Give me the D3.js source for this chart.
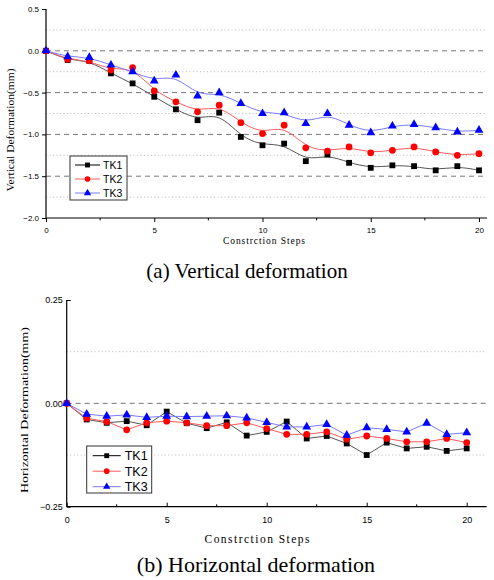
<!DOCTYPE html>
<html>
<head>
<meta charset="utf-8">
<script src="https://cdn.jsdelivr.net/npm/d3@7"></script>
<style>
  html, body { margin: 0; padding: 0; background: #fff; }
  svg { display: block; }
</style>
</head>
<body>
<div id="root"></div>
<script>
// construction steps (x categories)
const steps = [0, 1, 2, 3, 4, 5, 6, 7, 8, 9, 10, 11, 12, 13, 14, 15, 16, 17, 18, 19, 20]
const series = ['TK1', 'TK2', 'TK3']

// (a) vertical deformation, mm
const vTK1 = [0, -0.11, -0.12, -0.27, -0.39, -0.55, -0.70, -0.83, -0.74, -1.03, -1.13, -1.11, -1.32, -1.24, -1.34, -1.40, -1.37, -1.38, -1.43, -1.38, -1.43]
const vTK2 = [0, -0.10, -0.12, -0.23, -0.20, -0.48, -0.61, -0.73, -0.65, -0.86, -0.99, -0.89, -1.16, -1.20, -1.15, -1.22, -1.19, -1.15, -1.21, -1.25, -1.23]
const vTK3 = [0, -0.07, -0.08, -0.17, -0.25, -0.36, -0.29, -0.54, -0.50, -0.63, -0.75, -0.74, -0.87, -0.75, -0.89, -0.98, -0.90, -0.88, -0.92, -0.97, -0.95]

// (b) horizontal deformation, mm
const hTK1 = [0, -0.039, -0.047, -0.043, -0.053, -0.020, -0.048, -0.060, -0.046, -0.078, -0.069, -0.044, -0.085, -0.079, -0.097, -0.125, -0.095, -0.109, -0.105, -0.115, -0.109]
const hTK2 = [0, -0.036, -0.044, -0.064, -0.047, -0.043, -0.047, -0.054, -0.054, -0.047, -0.061, -0.075, -0.075, -0.069, -0.087, -0.079, -0.085, -0.093, -0.093, -0.085, -0.095]
const hTK3 = [0, -0.026, -0.031, -0.028, -0.034, -0.031, -0.032, -0.031, -0.030, -0.035, -0.046, -0.057, -0.057, -0.051, -0.077, -0.059, -0.063, -0.069, -0.048, -0.075, -0.071]

// tick labels
const xTicks = [0, 5, 10, 15, 20]
const vTicks = [0.5, 0.0, -0.5, -1.0, -1.5, -2.0]
const hTicks = [0.25, 0.00, -0.25]

const markerColor = { TK1: '#000', TK2: '#f00', TK3: '#00f' }
const lineColor = { TK1: '#555', TK2: '#ff5a5a', TK3: '#7a7aff' }
const marker = { TK1: d3.symbolSquare, TK2: d3.symbolCircle, TK3: d3.symbolTriangle }
const markerSize = { TK1: 34, TK2: 36, TK3: 34 }

const svg = d3.select('#root').append('svg')
  .attr('width', 494)
  .attr('height', 580)

const sans = 'Liberation Sans, Arial, sans-serif'
const serif = 'Liberation Serif, Times New Roman, serif'

function panel(opts) {
  const g = svg.append('g')
  const x = d3.scaleLinear().domain([0, opts.xMax]).range([opts.left, opts.right])
  const y = d3.scaleLinear().domain(opts.yDomain).range([opts.bottom, opts.top])

  // grid
  g.selectAll('.minor').data(opts.minorGrid).join('line')
    .attr('x1', opts.left).attr('x2', opts.right)
    .attr('y1', d => y(d)).attr('y2', d => y(d))
    .attr('stroke', '#bbb').attr('stroke-width', 1).attr('stroke-dasharray', '1,2.5')
  g.selectAll('.major').data(opts.majorGrid).join('line')
    .attr('x1', opts.left).attr('x2', opts.right)
    .attr('y1', d => y(d)).attr('y2', d => y(d))
    .attr('stroke', '#777').attr('stroke-width', 1).attr('stroke-dasharray', '5,4')

  // axes
  const tl = opts.tickInward ? -4 : 4
  const xAxis = d3.axisBottom(x).tickValues(xTicks).tickSize(tl).tickPadding(opts.tickInward ? 10 : 5)
    .tickFormat(d3.format('d'))
  const gx = g.append('g').attr('transform', `translate(0,${opts.bottom})`).call(xAxis)
  gx.append('g').selectAll('line').data([2.5, 7.5, 12.5, 17.5]).join('line')
    .attr('x1', d => x(d)).attr('x2', d => x(d)).attr('y1', 0).attr('y2', tl * 0.6)
    .attr('stroke', '#000')

  const yAxis = (opts.tickInward ? d3.axisRight(y) : d3.axisLeft(y))
    .tickValues(opts.yTicks).tickSize(4).tickFormat(d3.format(opts.yFormat))
  const gy = g.append('g').attr('transform', `translate(${opts.left},0)`).call(yAxis)
  if (opts.tickInward) {
    gy.selectAll('.tick text').attr('x', -4).attr('text-anchor', 'end')
    gy.selectAll('.tick line').attr('x2', 4)
  }

  ;[gx, gy].forEach(a => {
    a.select('.domain').attr('stroke', '#000').attr('stroke-width', 1.2)
    a.selectAll('.tick line').attr('stroke', '#000')
    a.selectAll('.tick text').attr('font-family', sans).attr('font-size', opts.tickFont).attr('fill', '#000')
  })
  gx.select('.domain').attr('d', `M${opts.left},0H${opts.right}`)
  gy.select('.domain').attr('d', `M0,${opts.bottom}V${opts.top}`)

  // lines + markers
  const line = d3.line()
    .x((d, i) => x(steps[i]))
    .y(d => y(d))
    .curve(opts.curve)

  opts.data.forEach((vals, k) => {
    const name = series[k]
    g.append('path')
      .datum(vals)
      .attr('d', line)
      .attr('fill', 'none')
      .attr('stroke', lineColor[name])
      .attr('stroke-width', 1)
  })
  opts.data.forEach((vals, k) => {
    const name = series[k]
    g.selectAll('.m' + name).data(vals).join('path')
      .attr('transform', (d, i) => `translate(${x(steps[i])},${y(d)})`)
      .attr('d', d3.symbol(marker[name], markerSize[name]))
      .attr('fill', markerColor[name])
  })

  // legend
  const L = opts.legend
  g.append('rect')
    .attr('x', L.x).attr('y', L.y).attr('width', L.w).attr('height', L.h)
    .attr('fill', '#fff').attr('stroke', '#333').attr('stroke-width', 1)
  series.forEach((name, k) => {
    const yy = L.y + L.first + k * L.step
    g.append('line')
      .attr('x1', L.x + L.l0).attr('x2', L.x + L.l1).attr('y1', yy).attr('y2', yy)
      .attr('stroke', k === 0 ? '#000' : lineColor[name]).attr('stroke-width', 1)
    g.append('path')
      .attr('transform', `translate(${L.x + (L.l0 + L.l1) / 2},${yy})`)
      .attr('d', d3.symbol(marker[name], markerSize[name] * 0.7))
      .attr('fill', markerColor[name])
    g.append('text')
      .attr('x', L.x + L.tx).attr('y', yy).attr('dy', '0.36em')
      .attr('font-family', sans).attr('font-size', L.font)
      .text(name)
  })

  // titles
  g.append('text')
    .attr('transform', `translate(${opts.yTitle.x},${opts.yTitle.y}) rotate(-90)`)
    .attr('text-anchor', 'middle')
    .attr('font-family', serif).attr('font-size', opts.yTitle.size)
    .attr('textLength', opts.yTitle.len).attr('lengthAdjust', 'spacingAndGlyphs')
    .text(opts.yTitle.text)
  g.append('text')
    .attr('x', opts.xTitle.x).attr('y', opts.xTitle.y)
    .attr('text-anchor', 'middle')
    .attr('font-family', serif).attr('font-size', opts.xTitle.size)
    .attr('textLength', opts.xTitle.len).attr('lengthAdjust', 'spacing')
    .text('Constrction Steps')
  g.append('text')
    .attr('x', opts.caption.x).attr('y', opts.caption.y)
    .attr('text-anchor', 'middle')
    .attr('font-family', serif).attr('font-size', opts.caption.size)
    .text(opts.caption.text)
}

panel({
  left: 46, right: 487, top: 9, bottom: 218,
  xMax: 20.37,
  yDomain: [-2, 0.5],
  yTicks: vTicks, yFormat: '.1f',
  majorGrid: [0, -0.5, -1.0, -1.5],
  minorGrid: [0.25, -0.25, -0.75, -1.25, -1.75],
  tickInward: false, tickFont: 8,
  curve: d3.curveBasis,
  data: [vTK1, vTK2, vTK3],
  legend: { x: 70, y: 156, w: 57, h: 44, first: 9, step: 14, l0: 5, l1: 30, tx: 33, font: 10.5 },
  yTitle: { x: 14, y: 130, size: 9.5, len: 123, text: 'Vertical Deformation(mm)' },
  xTitle: { x: 264, y: 244, size: 9.5, len: 82 },
  caption: { x: 247, y: 278, size: 21, text: '(a) Vertical deformation' }
})

panel({
  left: 66.7, right: 486.7, top: 300, bottom: 506.7,
  xMax: 21,
  yDomain: [-0.25, 0.25],
  yTicks: hTicks, yFormat: '.2f',
  majorGrid: [0],
  minorGrid: [0.125, -0.125],
  tickInward: true, tickFont: 9,
  curve: d3.curveLinear,
  data: [hTK1, hTK2, hTK3],
  legend: { x: 86.7, y: 446, w: 65, h: 47, first: 9.7, step: 15.5, l0: 6, l1: 34, tx: 38, font: 12.5 },
  yTitle: { x: 28, y: 410, size: 11, len: 166, text: 'Horizontal Deformation(mm)' },
  xTitle: { x: 257, y: 543, size: 11.5, len: 105 },
  caption: { x: 256, y: 572, size: 22, text: '(b) Horizontal deformation' }
})
</script>
</body>
</html>
